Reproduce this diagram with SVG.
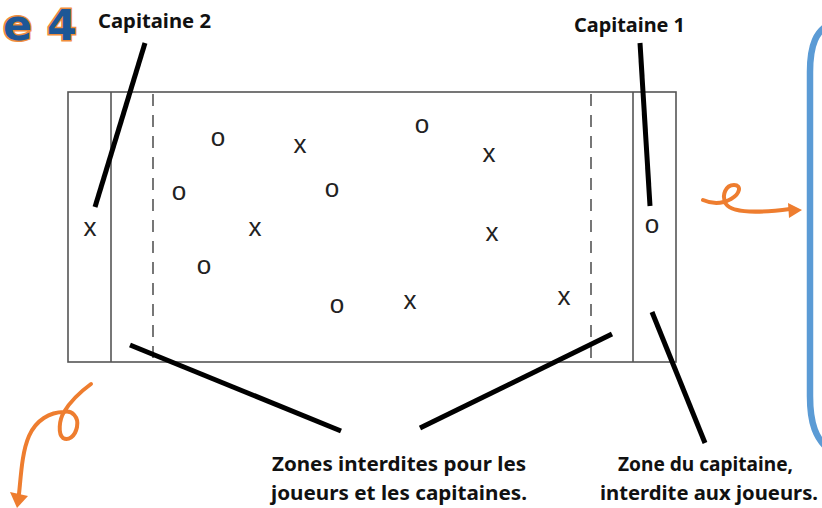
<svg xmlns="http://www.w3.org/2000/svg" width="822" height="508" viewBox="0 0 822 508">
<defs>
<style>
.lbl{font-family:"Noto Sans","Open Sans","Liberation Sans",sans-serif;font-weight:bold;font-size:20px;fill:#111}
.pl{font-family:"Liberation Sans",Arial,sans-serif;font-size:26px;fill:#222;text-anchor:middle}
.fl{fill:none;stroke:#555;stroke-width:1.6}
.dash{fill:none;stroke:#555;stroke-width:1.6;stroke-dasharray:12 9}
.ptr{stroke:#000;stroke-width:5;stroke-linecap:butt;fill:none}
.orange{fill:none;stroke:#ee7d2f;stroke-width:4;stroke-linecap:round;stroke-linejoin:round}
</style>
</defs>
<rect width="822" height="508" fill="#fff"/>
<g id="title">
<text x="3" y="40" font-family="'DejaVu Sans','Liberation Sans',sans-serif" font-weight="bold" font-size="42" fill="#1d5796" stroke="#f08d3c" stroke-width="3" paint-order="stroke" textLength="74" lengthAdjust="spacingAndGlyphs">e 4</text>
</g>
<g id="panel">
<path d="M832,23 C816,30 810,45 810,72 L810,396 C810,422 815,440 832,452" fill="none" stroke="#5b9bd5" stroke-width="6.5"/>
</g>
<g id="field">
<rect class="fl" x="68" y="92" width="608" height="270"/>
<line class="fl" x1="111" y1="92" x2="111" y2="362"/>
<line class="fl" x1="633" y1="92" x2="633" y2="362"/>
<line class="dash" x1="153" y1="94" x2="153" y2="362"/>
<line class="dash" x1="591" y1="94" x2="591" y2="362"/>
</g>
<g id="players">
<text class="pl" x="90" y="236">x</text>
<text class="pl" x="652" y="233">o</text>
<text class="pl" x="218" y="146">o</text>
<text class="pl" x="300" y="153">x</text>
<text class="pl" x="422" y="133">o</text>
<text class="pl" x="489" y="162">x</text>
<text class="pl" x="179" y="200">o</text>
<text class="pl" x="332" y="197">o</text>
<text class="pl" x="255" y="236">x</text>
<text class="pl" x="492" y="241">x</text>
<text class="pl" x="204" y="274">o</text>
<text class="pl" x="337" y="313">o</text>
<text class="pl" x="410" y="309">x</text>
<text class="pl" x="564" y="305">x</text>
</g>
<g id="connectors">
<line class="ptr" x1="145" y1="43" x2="95" y2="207"/>
<line class="ptr" x1="640" y1="43" x2="650" y2="206"/>
<line class="ptr" x1="130" y1="345" x2="341" y2="431"/>
<line class="ptr" x1="612" y1="334" x2="420" y2="428"/>
<line class="ptr" x1="652" y1="312" x2="705" y2="443"/>
</g>
<g id="arrow-right">
<path class="orange" d="M703,200 C712,204 722,204 731,199 C740,194 742,185 734,185 C726,185 721,195 726,204 C732,213 760,213 790,209"/>
<polygon points="788,203 802,210 789,218" fill="#ee7d2f"/>
</g>
<g id="arrow-left">
<path class="orange" d="M91,384 C80,392 70,402 64,412 C72,410 79,417 77,427 C75,437 68,441 63,438 C58,434 59,420 64,412 C50,412 36,420 29,436 C22,452 21,475 19,494"/>
<polygon points="10,492 28,496 17,508" fill="#ee7d2f"/>
</g>
<g id="labels">
<text class="lbl" x="98" y="28" textLength="113" lengthAdjust="spacingAndGlyphs">Capitaine 2</text>
<text class="lbl" x="574" y="32" textLength="111" lengthAdjust="spacingAndGlyphs">Capitaine 1</text>
<text class="lbl" x="272" y="471" textLength="254" lengthAdjust="spacingAndGlyphs">Zones interdites pour les</text>
<text class="lbl" x="271" y="500" textLength="256" lengthAdjust="spacingAndGlyphs">joueurs et les capitaines.</text>
<text class="lbl" x="618" y="471" textLength="175" lengthAdjust="spacingAndGlyphs">Zone du capitaine,</text>
<text class="lbl" x="600" y="500" textLength="218" lengthAdjust="spacingAndGlyphs">interdite aux joueurs.</text>
</g>
</svg>
